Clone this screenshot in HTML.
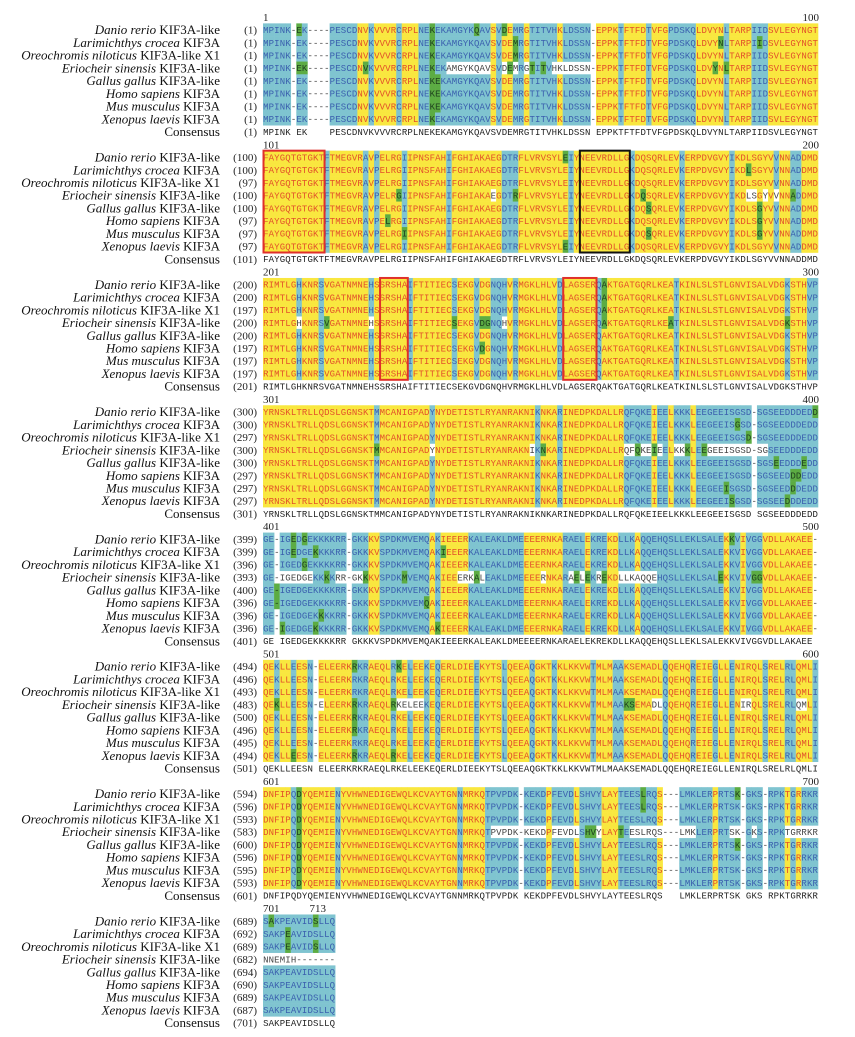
<!DOCTYPE html>
<html><head><meta charset="utf-8">
<style>
html,body{margin:0;padding:0;background:#fff;}
svg{display:block;}
.nm{font-family:"Liberation Serif",serif;font-size:13px;fill:#111;}
.num{font-family:"Liberation Serif",serif;font-size:11px;fill:#222;}
.aa{font-family:"Liberation Mono",monospace;font-size:9px;text-anchor:middle;}
</style></head>
<body>
<svg id="msa" xmlns="http://www.w3.org/2000/svg" width="855" height="1037" viewBox="0 0 855 1037">
<rect x="0" y="0" width="855" height="1037" fill="#ffffff"/>
<g id="names"></g>
<g id="blocks"></g>
</svg>
<script>
const speciesItalic = ["Danio rerio","Larimichthys crocea","Oreochromis niloticus","Eriocheir sinensis","Gallus gallus","Homo sapiens","Mus musculus","Xenopus laevis",""];
const speciesPlain = [" KIF3A-like"," KIF3A"," KIF3A-like X1"," KIF3A-like"," KIF3A-like"," KIF3A"," KIF3A"," KIF3A","Consensus"];
const startNums = [
 [1,1,1,1,1,1,1,1,1],
 [100,100,97,100,100,97,97,97,101],
 [200,200,197,200,200,197,197,197,201],
 [300,300,297,300,300,297,297,297,301],
 [399,399,396,393,400,396,396,396,401],
 [494,496,493,483,500,496,495,494,501],
 [594,596,593,583,600,596,595,593,601],
 [689,692,689,682,694,690,689,687,701]];
const headerLeft = ["1","101","201","301","401","501","601","701"];
const headerRight = ["100","200","300","400","500","600","700","713"];
const consensus = [
 "MPINK EK    PESCDNVKVVVRCRPLNEKEKAMGYKQAVSVDEMRGTITVHKLDSSN EPPKTFTFDTVFGPDSKQLDVYNLTARPIIDSVLEGYNGTI",
 "FAYGQTGTGKTFTMEGVRAVPELRGIIPNSFAHIFGHIAKAEGDTRFLVRVSYLEIYNEEVRDLLGKDQSQRLEVKERPDVGVYIKDLSGYVVNNADDMD",
 "RIMTLGHKNRSVGATNMNEHSSRSHAIFTITIECSEKGVDGNQHVRMGKLHLVDLAGSERQAKTGATGQRLKEATKINLSLSTLGNVISALVDGKSTHVP",
 "YRNSKLTRLLQDSLGGNSKTMMCANIGPADYNYDETISTLRYANRAKNIKNKARINEDPKDALLRQFQKEIEELKKKLEEGEEISGSD SGSEEDDDEDD",
 "GE IGEDGEKKKKRR GKKKVSPDKMVEMQAKIEEERKALEAKLDMEEEERNKARAELEKREKDLLKAQQEHQSLLEKLSALEKKVIVGGVDLLAKAEE",
 "QEKLLEESN ELEERKRKRAEQLRKELEEKEQERLDIEEKYTSLQEEAQGKTKKLKKVWTMLMAAKSEMADLQQEHQREIEGLLENIRQLSRELRLQMLII",
 "DNFIPQDYQEMIENYVHWNEDIGEWQLKCVAYTGNNMRKQTPVPDK KEKDPFEVDLSHVYLAYTEESLRQS   LMKLERPRTSK GKS RPKTGRRKR",
 "SAKPEAVIDSLLQ"];
const rowTextOverride = {"7-3":"NNEMIH-------"};
const blockLen = [100,100,100,100,100,100,100,13];
const defaultClass = ["X","Y","Y","Y","C","Y","Y","C"];
const block1Pattern = "CCCCCCCCWWWWCCCCCYYCYYYYCYYYCCGCCCCCCCCCCYCYYCCYCCCCCYCCCCCWYYYYCYYYYCYYYCCCCCYYYYYCYYYYCCCYYYYYYYYY";
const cyanCols = [[],[11,18,20,25,33,43,44,45,55,66,75,84,92,95,96],[6,10,19,26,34,38,41,42,43,45,53,60,74,94,98,99],
 [20,30,49,53,65,66,67,68,69,71,72,74,75,76,78,79,80,81,82,83,84,85,86,87,88,89,90,91,92,93,94,95,96,97,98,99],[],
 [2,5,8,16,17,18,23,26,29,31,38,43,48,52,59,63,64,72,77,81,84,90,94,95,99],
 [5,13,35,40,41,42,43,44,45,47,48,49,50,52,53,54,55,57,58,59,60,64,65,66,67,68,69,70,75,76,77,78,79,80,82,83,84,85,87,88,89,91,92,93,95,97,98,99],[]];
const yellowCols = [[],[],[],[],[19,20,30,32,33,34,35,36,47,48,49,50,51,52,53,58,62,63,67,83,86,90,91,92,93,94,95,96,97,98,99],[],[],[]];
const whiteCols = [[],[],[],[],[2,15],[9],[46,72,73,74,86,90],[]];
const eriocheirWhite = [
 [33,34,35,36,37,38,39,40,43,44,45,47,48,52,53,54,55,56,57,58],
 [41,68,87,88,90,92],
 [6,19,43],
 [30,48,65,66,67,68,69,70,71,74,75,76,79,80,81,82,83,84,85,86,87,88,89,90],
 [3,4,5,6,7,8,13,14,15,16,17,18,35,36,37,39,50,55,56,57,60,61,64,65,66,67,68,69,70],
 [9,10,24,25,26,27,28,70,71,86,87,96,97],
 [6,41,42,43,44,45,46,47,48,49,50,52,53,54,55,56,60,64,66,67,68,69,70,71,72,73,74,75,76,77,84,85,86,88,90,94,95,96,97,98,99],
 [0,1,2,3,4,5,6,7,8,9,10,11,12]];
const greenCells = [
 [[0,6],[3,6],[3,7],[3,18],[0,30],[0,38],[0,43],[1,45],[2,45],[3,44],[3,48],[3,50],[4,31],[5,31],[6,31],[7,30],[1,82],[3,81],[3,83],[1,89]],
 [[0,54],[7,54],[3,24],[3,45],[5,22],[6,25],[3,68],[4,69],[6,69],[1,87],[3,95],[4,89],[5,89],[6,89]],
 [[3,11],[3,34],[3,39],[3,40],[5,39],[3,61],[0,61],[1,61],[2,61],[3,73],[3,94]],
 [[3,20],[3,50],[3,67],[3,70],[3,76],[3,79],[0,99],[1,85],[2,87],[4,92],[4,97],[5,95],[5,96],[6,83],[6,95],[7,84],[7,94]],
 [[0,5],[0,7],[0,84],[1,5],[1,9],[1,32],[2,7],[3,11],[3,18],[3,25],[3,38],[3,56],[3,58],[3,61],[3,82],[3,88],[3,89],[4,2],[5,2],[5,29],[6,10],[7,3],[7,9],[7,31]],
 [[0,16],[0,24],[3,2],[3,16],[3,23],[3,65],[3,66],[4,16],[5,16],[7,5],[7,16],[7,23]],
 [[0,6],[1,6],[2,6],[3,6],[4,6],[5,6],[6,6],[7,6],[0,68],[1,68],[3,58],[3,59],[3,64],[0,85],[4,85]],
 [[0,1],[0,9],[1,4],[2,4],[2,9]]];
const redBoxes = [[1,0,10],[2,21,25],[2,54,59]];
const blackBoxes = [[1,57,65]];

const NS="http://www.w3.org/2000/svg";
const X0=263, CW=5.55, LH=12.73, Y0=17;
const BG={Y:"#f9e73f",C:"#7fc4d0",G:"#5cac43",W:"none"};
const FG={Y:"#e2502a",C:"#3a5fae",G:"#1e3f1e",W:"#444",N:"#222"};
function el(tag,attrs,parent){const e=document.createElementNS(NS,tag);for(const k in attrs)e.setAttribute(k,attrs[k]);parent.appendChild(e);return e;}
function colX(i){return X0+i*CW;}
function hdrY(b){return Y0+b*10*LH;}
function rowY(b,r){return hdrY(b)+(r+1)*LH;}

const names=document.getElementById('names');
const blocks=document.getElementById('blocks');

for(let b=0;b<8;b++){
  const g=el('g',{},blocks);
  
  
  const n=blockLen[b];
  const cls=[];
  for(let i=0;i<n;i++){
    let c = b===0 ? block1Pattern[i] : defaultClass[b];
    if(cyanCols[b].includes(i)) c='C';
    if(yellowCols[b].includes(i)) c='Y';
    if(whiteCols[b].includes(i)) c='W';
    cls.push(c);
  }
  const cons=(consensus[b]+" ".repeat(n)).slice(0,n);
  const hl=el('text',{x:X0,y:hdrY(b)+4,class:'num'},g);hl.textContent=headerLeft[b];
  
  
  const hr=el('text',{x:(b===7?326:819),y:hdrY(b)+4,class:'num','text-anchor':'end'},g);hr.textContent=headerRight[b];
  
  
  for(let r=0;r<9;r++){
    const y=rowY(b,r);
    const t=el('text',{x:220,y:y+4.5,class:'nm','text-anchor':'end'},names);
    
    
    if(speciesItalic[r]){const it=el('tspan',{'font-style':'italic'},t);it.textContent=speciesItalic[r];}
    const pl=el('tspan',{},t);pl.textContent=speciesPlain[r];
    const nn=el('text',{x:257,y:y+4,class:'num','text-anchor':'end'},g);nn.textContent='('+startNums[b][r]+')';
    
    
    const rowG=el('g',{},g);
    
    
    const ov=rowTextOverride[b+'-'+r];
    for(let i=0;i<n;i++){
      let c = r===8 ? 'N' : cls[i];
      if(r===3 && eriocheirWhite[b].includes(i)) c='W';
      if(r!==8 && greenCells[b].some(p=>p[0]===r&&p[1]===i)) c='G';
      let ch= ov ? ov[i] : cons[i];
      if(r!==8 && ch===' '){ch='-'; if(c!=='G') c='W';}
      if(c!=='N' && c!=='W'){
        el('rect',{x:colX(i).toFixed(2),y:(y-LH/2).toFixed(2),width:(CW+0.3).toFixed(2),height:(LH+0.3).toFixed(2),fill:BG[c]},rowG);
      }
      if(ch!==' '){
        const tx=el('text',{x:(colX(i)+CW/2).toFixed(2),y:(y+3.3).toFixed(2),class:'aa',fill:FG[c]},rowG);
        tx.textContent=ch;
      }
    }
  }
}
function box(b,c0,c1,color,name){
  const r=el('rect',{x:colX(c0)+0.5,y:rowY(b,0)-LH/2,width:(c1-c0+1)*CW,height:8*LH,fill:'none',stroke:color,'stroke-width':2},blocks);
  
  
}
redBoxes.forEach(bx=>box(bx[0],bx[1],bx[2],'#e0302a','motif-highlight-box'));
blackBoxes.forEach(bx=>box(bx[0],bx[1],bx[2],'#111','motif-highlight-box'));
</script>
</body></html>
